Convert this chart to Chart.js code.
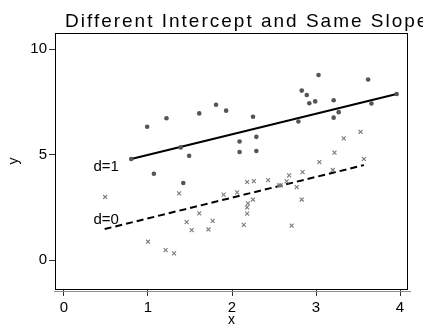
<!DOCTYPE html>
<html>
<head>
<meta charset="utf-8">
<script src="https://cdn.jsdelivr.net/npm/chart.js@4/dist/chart.umd.min.js"></script>
<style>
  html, body { margin: 0; padding: 0; background: #fff; }
  canvas { display: block; }
</style>
</head>
<body>
<canvas id="plot" width="423" height="329"></canvas>
<script>
// Data
const xTicks = [0, 1, 2, 3, 4];
const yTicks = [0, 5, 10];

// d = 1 group (dots)
const d1X = [0.80, 0.99, 1.07, 1.22, 1.39, 1.42, 1.49, 1.61, 1.81, 1.93, 2.09, 2.09, 2.25, 2.29,
             2.29, 2.79, 2.83, 2.89, 2.92, 2.99, 3.03, 3.21, 3.21, 3.27, 3.62, 3.66, 3.96];
const d1Y = [4.79, 6.32, 4.09, 6.72, 5.34, 3.65, 4.94, 6.95, 7.36, 7.08, 5.62, 5.12, 6.79, 5.84,
             5.17, 6.57, 8.03, 7.82, 7.43, 7.52, 8.77, 7.57, 6.75, 7.01, 8.56, 7.42, 7.87];

// d = 0 group (crosses)
const d0X = [0.49, 1.00, 1.21, 1.31, 1.37, 1.46, 1.52, 1.61, 1.72, 1.77, 1.90, 2.06, 2.14, 2.18,
             2.18, 2.18, 2.19, 2.25, 2.26, 2.43, 2.56, 2.58, 2.65, 2.68, 2.71, 2.77, 2.83, 2.84,
             3.04, 3.20, 3.22, 3.33, 3.53, 3.57];
const d0Y = [2.99, 0.87, 0.47, 0.32, 3.16, 1.80, 1.42, 2.21, 1.45, 1.86, 3.10, 3.21, 1.67, 2.20,
             2.50, 3.70, 2.69, 2.87, 3.74, 3.79, 3.54, 3.54, 3.73, 4.01, 1.63, 3.46, 2.87, 4.17,
             4.64, 4.27, 5.09, 5.77, 6.08, 4.79];

// fitted lines (end points)
const fit1X = [0.80, 3.96];
const fit1Y = [4.79, 7.87];
const fit0X = [0.484, 3.57];
const fit0Y = [1.47, 4.50];

// line labels
const labelText = ['d=1', 'd=0'];
const labelX = [0.35, 0.35];
const labelY = [4.2, 1.72];

const FONT = '"Liberation Sans", Arial, Helvetica, sans-serif';

function toPoints(xs, ys) {
    return xs.map((x, i) => ({ x: x, y: ys[i] }));
}

// box, offset x axis line, title and group labels
const decorations = {
    id: 'decorations',
    afterDatasetsDraw(chart) {
        const { ctx, chartArea: a, scales } = chart;
        ctx.save();
        ctx.strokeStyle = '#000';
        ctx.lineWidth = 1;
        ctx.strokeRect(a.left + 0.5, a.top + 0.5, a.right - a.left - 1, a.bottom - a.top);
        ctx.strokeStyle = '#8c8c8c';
        ctx.beginPath();
        ctx.moveTo(a.left - 1, a.bottom + 2.5);
        ctx.lineTo(a.right + 3, a.bottom + 2.5);
        ctx.stroke();

        ctx.fillStyle = '#000';
        ctx.font = '15px ' + FONT;
        ctx.textBaseline = 'alphabetic';
        labelText.forEach((t, i) => {
            ctx.fillText(t, scales.x.getPixelForValue(labelX[i]), scales.y.getPixelForValue(labelY[i]));
        });

        ctx.font = '19px ' + FONT;
        ctx.letterSpacing = '2px';
        ctx.fillText('Different Intercept and Same Slope', 65, 27);
        ctx.restore();
    }
};

const ctx = document.getElementById('plot').getContext('2d');
new Chart(ctx, {
    type: 'scatter',
    data: {
        datasets: [
            {
                label: 'd=1',
                data: toPoints(d1X, d1Y),
                pointStyle: 'circle',
                pointRadius: 2.3,
                backgroundColor: '#555',
                borderColor: '#555',
                borderWidth: 0
            },
            {
                label: 'd=0',
                data: toPoints(d0X, d0Y),
                pointStyle: 'crossRot',
                pointRadius: 2.8,
                borderColor: '#7a7a7a',
                borderWidth: 1.1
            },
            {
                type: 'line',
                label: 'fit d=1',
                data: toPoints(fit1X, fit1Y),
                borderColor: '#000',
                borderWidth: 2,
                pointRadius: 0,
                fill: false
            },
            {
                type: 'line',
                label: 'fit d=0',
                data: toPoints(fit0X, fit0Y),
                borderColor: '#000',
                borderWidth: 2,
                borderDash: [7, 4],
                pointRadius: 0,
                fill: false
            }
        ]
    },
    options: {
        responsive: false,
        animation: false,
        layout: { padding: { left: 0, right: 15, top: 33, bottom: 0 } },
        plugins: {
            legend: { display: false },
            tooltip: { enabled: false },
            title: { display: false }
        },
        scales: {
            x: {
                type: 'linear',
                min: -0.107,
                max: 4.095,
                afterBuildTicks: (s) => { s.ticks = xTicks.map(v => ({ value: v })); },
                afterFit: (s) => { s.height = 40; },
                border: { display: false },
                grid: { drawOnChartArea: false, tickLength: 7, color: '#333' },
                ticks: { color: '#000', padding: 3, maxRotation: 0, font: { family: FONT, size: 15 } },
                title: { display: true, text: 'x', color: '#000', padding: 0, font: { family: FONT, size: 14 } }
            },
            y: {
                type: 'linear',
                min: -1.37,
                max: 10.76,
                afterBuildTicks: (s) => { s.ticks = yTicks.map(v => ({ value: v })); },
                afterFit: (s) => { s.width = 55; },
                border: { display: false },
                grid: { drawOnChartArea: false, tickLength: 6, color: '#333' },
                ticks: { color: '#000', padding: 2, font: { family: FONT, size: 15 } },
                title: { display: true, text: 'y', color: '#000', padding: { top: 6, bottom: 0 }, font: { family: FONT, size: 14 } }
            }
        }
    },
    plugins: [decorations]
});
</script>
</body>
</html>
